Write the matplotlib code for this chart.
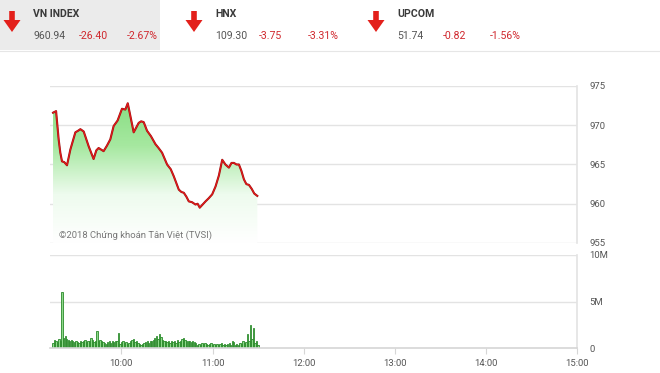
import numpy as np
import matplotlib
matplotlib.use("Agg")
import matplotlib.pyplot as plt
from matplotlib.colors import LinearSegmentedColormap
from matplotlib.patches import Polygon, Rectangle

plt.rcParams['font.family'] = ['Roboto', 'DejaVu Sans']

# ---------------- data ----------------
indices = ["VN INDEX", "HNX", "UPCOM"]
index_values = ["960.94", "109.30", "51.74"]
index_changes = ["-26.40", "-3.75", "-0.82"]
index_pcts = ["-2.67%", "-3.31%", "-1.56%"]

# minutes after 9:00
price_minutes = [15, 17, 18.7, 19.8, 20.9, 22.4, 24.2, 26.4, 29.7, 31.5, 33, 35.2, 38.5,
                 41.7, 43.5, 45, 48.3, 50.5, 52.7, 54.9, 57.5, 60.4, 62.6, 64.2, 65.9,
                 68.1, 71.4, 73, 74.7, 76.9, 79.5, 82.4, 84.5, 86.8, 90.1, 92.5, 94.5,
                 97.8, 99.5, 101.1, 102.8, 104.4, 106.5, 108.8, 110.2, 111.6, 113.5, 115.4,
                 117.5, 119.8, 122, 124.2, 126.4, 128.5, 130.8, 132.5, 134.1, 135.8, 137.4,
                 139, 140.7, 142.3, 144, 145.8, 147.5, 149.5]
price_values = [971.6, 971.8, 968.2, 966.5, 965.4, 965.3, 964.9, 966.9, 969.1, 969.3, 969.5, 969.2, 967.3,
                965.7, 966.8, 967.1, 966.7, 967.4, 968.2, 969.9, 970.6, 972.1, 972.0, 972.8, 971.2,
                969.1, 970.3, 970.5, 970.4, 969.3, 968.6, 967.6, 967.1, 966.5, 965.0, 964.4, 963.5,
                961.8, 961.5, 961.4, 960.9, 960.3, 960.2, 959.9, 960.0, 959.5, 959.9, 960.3,
                960.7, 961.2, 962.2, 963.6, 965.6, 965.0, 964.6, 965.2, 965.2, 965.0, 965.0,
                964.2, 963.1, 962.5, 962.4, 961.9, 961.3, 961.0]

volume_start = 15  # first bar minute
volumes_m = [0.5, 0.9, 0.8, 0.6, 1.0, 0.7, 6.0, 1.1, 1.3, 1.0,
             0.9, 0.8, 0.9, 0.7, 0.6, 0.7, 0.6, 0.5, 0.8, 0.6,
             0.7, 0.9, 0.6, 0.8, 0.7, 1.1, 0.9, 0.6, 0.8, 1.8,
             0.7, 0.9, 0.8, 0.6, 0.5, 0.4, 0.6, 0.7, 0.5, 0.7,
             0.6, 0.8, 0.7, 1.6, 0.4, 0.6, 0.7, 0.5, 0.6, 0.4,
             0.5, 0.7, 0.9, 1.0, 0.6, 0.8, 0.5, 0.4, 0.3, 0.4,
             0.5, 0.6, 0.7, 0.5, 0.8, 0.7, 0.9, 1.1, 1.3, 1.0,
             1.5, 1.2, 0.9, 0.7, 0.8, 0.6, 0.7, 0.5, 0.8, 0.6,
             0.7, 0.5, 0.9, 0.6, 0.8, 1.0, 1.1, 0.9, 0.8, 0.7,
             0.8, 0.6, 0.7, 0.6, 0.5, 0.3, 0.4, 0.3, 0.5, 0.4,
             0.5, 0.4, 0.3, 0.4, 0.5, 0.3, 0.4, 0.3, 0.4, 0.3,
             0.4, 0.5, 0.3, 0.4, 0.3, 0.4, 0.5, 0.3, 0.8, 0.6,
             0.3, 0.4, 0.3, 0.5, 0.4, 0.8, 0.5, 0.6, 1.5, 0.7,
             2.5, 1.0, 2.1, 0.5, 0.7, 0.3]

price_ticks = [955, 960, 965, 970, 975]
vol_ticks = [0, 5, 10]
vol_tick_labels = ["0", "5M", "10M"]
time_ticks_min = [60, 120, 180, 240, 300, 360]
time_tick_labels = ["10:00", "11:00", "12:00", "13:00", "14:00", "15:00"]

# ---------------- figure ----------------
W, H = 660, 373
fig = plt.figure(figsize=(W / 100, H / 100), dpi=100)
fig.patch.set_facecolor("white")

def fx(px):
    return px / W

def fy(py):
    return 1 - py / H

# header
fig.patches.append(Rectangle((0, fy(50)), fx(160), 50 / H, transform=fig.transFigure,
                             facecolor="#ebebeb", edgecolor="none", zorder=0))
fig.add_artist(plt.Line2D([0, 1], [fy(50.5), fy(50.5)], transform=fig.transFigure,
                          color="#e6e6e6", lw=0.8))

arrow_cx = [12, 194, 376]
name_x = [33, 215, 397]
chg_x = [79, 259, 443]
pct_x = [127, 308, 490]
for i in range(3):
    cx = arrow_cx[i]
    pts = [(cx - 2.8, 11), (cx + 2.8, 11), (cx + 2.8, 20), (cx + 8.5, 20), (cx, 32),
           (cx - 8.5, 20), (cx - 2.8, 20)]
    poly = Polygon([(fx(x), fy(y)) for x, y in pts], closed=True, transform=fig.transFigure,
                   facecolor="#e3201b", edgecolor="none")
    fig.patches.append(poly)
    fig.text(fx(name_x[i]), fy(14), indices[i], fontsize=7.6, fontweight="bold",
             color="#3a3a3a", va="center", ha="left")
    fig.text(fx(name_x[i]), fy(36), index_values[i], fontsize=7.6, color="#555555",
             va="center", ha="left")
    fig.text(fx(chg_x[i]), fy(36), index_changes[i], fontsize=7.6, color="#d0282e",
             va="center", ha="left")
    fig.text(fx(pct_x[i]), fy(36), index_pcts[i], fontsize=7.6, color="#d0282e",
             va="center", ha="left")

# axes geometry
left_px, right_px = 50, 577
ax1 = fig.add_axes([fx(left_px), fy(243), (right_px - left_px) / W, (243 - 86) / H])
ax2 = fig.add_axes([fx(left_px), fy(348), (right_px - left_px) / W, (348 - 255) / H])

xlim = (13, 360)
grid_c = "#e3e3e3"

# ---- price panel ----
ax1.set_xlim(*xlim)
ax1.set_ylim(955, 975)
for s in ["left", "top", "bottom"]:
    ax1.spines[s].set_visible(False)
ax1.spines["right"].set_color(grid_c)
ax1.spines["right"].set_linewidth(1.2)
for v in price_ticks:
    ax1.axhline(v, color=grid_c, lw=1.0, zorder=0)
ax1.set_xticks([])
ax1.yaxis.tick_right()
ax1.set_yticks(price_ticks)
ax1.set_yticklabels([str(v) for v in price_ticks])
ax1.tick_params(axis="y", length=0, pad=9, labelsize=6.8, labelcolor="#555555")

pm = np.array(price_minutes)
pv = np.array(price_values)
fill = ax1.fill_between(pm, pv, 955, color="none", lw=0)
cmap = LinearSegmentedColormap.from_list("g", ["#ffffff", "#eefbee", "#a6e8a0", "#86dd80"])
grad = np.linspace(0, 1, 256).reshape(-1, 1)
img = ax1.imshow(grad, extent=[pm[0], pm[-1], 955, 973.5], origin="lower", cmap=cmap,
                 aspect="auto", zorder=1)
img.set_clip_path(fill.get_paths()[0], transform=ax1.transData)
ax1.set_xlim(*xlim)
ax1.set_ylim(955, 975)
ax1.plot(pm, pv, color="#9a1212", lw=1.5, zorder=2, solid_joinstyle="round")
ax1.plot(pm, pv, color="#e41a1a", lw=0.8, zorder=3, solid_joinstyle="round")

fig.text(fx(59), fy(235), "\u00a92018 Chứng khoán Tân Việt (TVSI)", fontsize=6.8,
         color="#777777", va="center", ha="left")

# ---- volume panel ----
ax2.set_xlim(*xlim)
ax2.set_ylim(0, 10)
for s in ["left", "top"]:
    ax2.spines[s].set_visible(False)
ax2.spines["right"].set_color(grid_c)
ax2.spines["right"].set_linewidth(1.2)
ax2.spines["bottom"].set_color("#d6d6d6")
ax2.spines["bottom"].set_linewidth(1.2)
for v in [5, 10]:
    ax2.axhline(v, color=grid_c, lw=1.0, zorder=0)
vx = np.arange(volume_start, volume_start + len(volumes_m))
ax2.bar(vx, volumes_m, width=0.9, color="#8ed88a", edgecolor="#2a8a2a", linewidth=0.6,
        zorder=2)
ax2.yaxis.tick_right()
ax2.set_yticks(vol_ticks)
ax2.set_yticklabels(vol_tick_labels)
ax2.tick_params(axis="y", length=0, pad=9, labelsize=6.8, labelcolor="#555555")
ax2.set_xticks(time_ticks_min)
ax2.set_xticklabels(time_tick_labels)
ax2.tick_params(axis="x", length=4, width=0.8, color="#d6d6d6", pad=4, labelsize=6.8,
                labelcolor="#555555")

fig.savefig("out.png", dpi=100, facecolor="white")
